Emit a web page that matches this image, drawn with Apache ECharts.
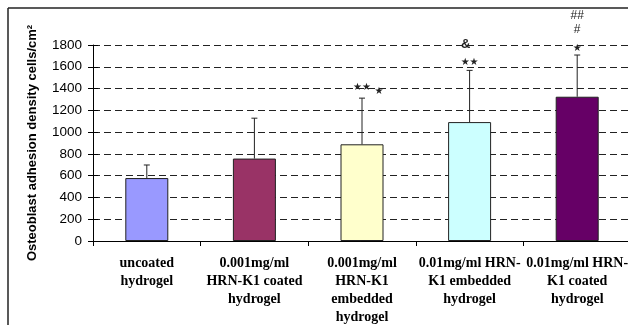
<!DOCTYPE html>
<html><head><meta charset="utf-8">
<style>html,body{margin:0;padding:0;background:#fff}#c{width:628px;height:325px}</style>
<script src="https://cdn.jsdelivr.net/npm/echarts@6/dist/echarts.min.js"></script>
</head><body><div id="c"></div>
<script>
var categories = ["uncoated\nhydrogel", "0.001mg/ml\nHRN-K1 coated\nhydrogel", "0.001mg/ml\nHRN-K1\nembedded\nhydrogel", "0.01mg/ml HRN-\nK1 embedded\nhydrogel", "0.01mg/ml HRN-\nK1 coated\nhydrogel"];
var means = [578, 757, 888, 1092, 1325];
var errTops = [698, 1128, 1312, 1567, 1708];
var barColors = ["#9999FF", "#993366", "#FFFFCC", "#CCFFFF", "#660066"];
var yTicks = {min: 0, max: 1800, interval: 200};
// annotations: [category index, value, text, x offset px]
var annotations = [
  [2, 1410, "★★", 0],
  [2, 1378, "★", 17],
  [3, 1809, "&", -4],
  [3, 1644, "★★", 0],
  [4, 2066, "##", 0],
  [4, 1938, "#", 0],
  [4, 1772, "★", 0]
];

var chart = echarts.init(document.getElementById('c'));
var barData = means.map(function (v, i) { return {value: v, itemStyle: {color: barColors[i]}}; });
var errData = means.map(function (v, i) { return [i, v, errTops[i]]; });

chart.setOption({
  animation: false,
  grid: {left: 93, top: 45, width: 538, height: 196, containLabel: false, outerBoundsMode: 'none'},
  graphic: [
    {type: 'line', shape: {x1: 8, y1: 8, x2: 628, y2: 8}, style: {stroke: '#222', lineWidth: 1.5}, silent: true},
    {type: 'line', shape: {x1: 8, y1: 8, x2: 8, y2: 325}, style: {stroke: '#222', lineWidth: 1.5}, silent: true}
  ],
  xAxis: {
    type: 'category', data: categories,
    axisLine: {lineStyle: {color: '#000', width: 1}},
    axisTick: {show: true, length: 5, lineStyle: {color: '#000'}},
    axisLabel: {interval: 0, margin: 13, color: '#000', fontFamily: 'Liberation Serif', fontWeight: 'bold', fontSize: 14, lineHeight: 18}
  },
  yAxis: [{
    type: 'value', min: yTicks.min, max: yTicks.max, interval: yTicks.interval,
    name: 'Osteoblast adhesion density cells/cm²', nameLocation: 'middle', nameGap: 54, nameRotate: 90,
    nameTextStyle: {fontFamily: 'Liberation Sans', fontWeight: 'bold', fontSize: 13, color: '#000'},
    axisLine: {show: true, lineStyle: {color: '#000', width: 1}},
    axisTick: {show: true, length: 5, lineStyle: {color: '#000'}},
    axisLabel: {margin: 11, color: '#000', fontFamily: 'Liberation Sans', fontSize: 13.5, formatter: function (v) { return String(v); }},
    splitLine: {show: true, lineStyle: {color: '#222', type: [7, 4], width: 1}}
  }, {
    type: 'value', position: 'left', min: yTicks.min, max: yTicks.max, interval: yTicks.interval,
    axisLine: {show: false}, axisLabel: {show: false}, splitLine: {show: false},
    axisTick: {show: true, inside: true, length: 5, lineStyle: {color: '#000'}}
  }],
  series: [{
    type: 'bar', data: barData, barWidth: 43,
    itemStyle: {borderColor: '#222', borderWidth: 1}
  }, {
    type: 'custom', data: errData, z: 3,
    renderItem: function (params, api) {
      var x = api.value(0);
      var lo = api.coord([x, api.value(1)]);
      var hi = api.coord([x, api.value(2)]);
      return {type: 'group', children: [
        {type: 'line', shape: {x1: lo[0], y1: lo[1], x2: hi[0], y2: hi[1]}, style: {stroke: '#222', lineWidth: 1}},
        {type: 'line', shape: {x1: hi[0] - 3, y1: hi[1], x2: hi[0] + 3, y2: hi[1]}, style: {stroke: '#222', lineWidth: 1}}
      ]};
    }
  }, {
    type: 'custom', data: annotations, z: 4, clip: false,
    renderItem: function (params, api) {
      var p = api.coord([api.value(0), api.value(1)]);
      var t = annotations[params.dataIndex][2];
      var dx = annotations[params.dataIndex][3];
      var isStar = t.indexOf('★') >= 0;
      var isAmp = t === '&';
      return {type: 'text', x: p[0] + dx, y: p[1], style: {
        text: t, fill: '#222', align: 'center', verticalAlign: 'middle',
        font: isStar ? '10px "DejaVu Sans"' : (isAmp ? 'bold 13px "Liberation Sans"' : '12px "Liberation Sans"')
      }};
    }
  }]
});
</script></body></html>
